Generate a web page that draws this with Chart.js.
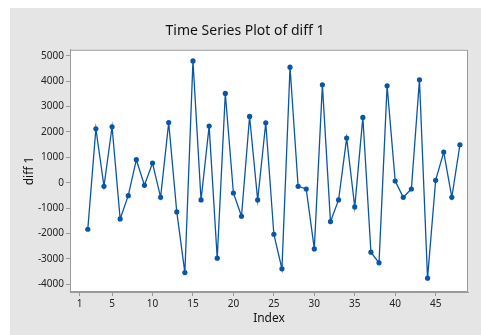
<!DOCTYPE html>
<html>
<head>
<meta charset="utf-8">
<script src="https://cdn.jsdelivr.net/npm/chart.js@4/dist/chart.umd.min.js"></script>
<style>
  html, body { margin: 0; padding: 0; background: #fff; }
  #wrap { width: 481px; height: 335px; position: relative; }
</style>
</head>
<body>
<div id="wrap"><canvas id="c" width="481" height="335"></canvas></div>
<script>
// index 2..48
const indexes = [2, 3, 4, 5, 6, 7, 8, 9, 10, 11, 12, 13, 14, 15, 16, 17, 18, 19, 20, 21, 22, 23, 24, 25,
  26, 27, 28, 29, 30, 31, 32, 33, 34, 35, 36, 37, 38, 39, 40, 41, 42, 43, 44, 45, 46, 47, 48];
const diff1 = [-1835, 2126, -142, 2205, -1429, -512, 906, -102, 776, -575, 2370,
  -1154, -3543, 4803, -681, 2232, -2977, 3519, -406, -1324, 2612, -681,
  2362, -2032, -3398, 4555, -142, -248, -2610, 3858, -1535, -681, 1760, -957,
  2575, -2740, -3161, 3819, 67, -575, -248, 4055, -3764, 94, 1209, -575, 1496];
const xTicks = [1, 5, 10, 15, 20, 25, 30, 35, 40, 45];
const yTicks = [-4000, -3000, -2000, -1000, 0, 1000, 2000, 3000, 4000, 5000];

const points = indexes.map((x, i) => ({ x: x, y: diff1[i] }));
const blue = "#0a56a6";
const tickFont = { family: "'Noto Sans', sans-serif", size: 10 };

// 背景パネルと枠
const panel = {
  id: "panel",
  beforeDraw(chart) {
    const ctx = chart.ctx;
    const a = chart.chartArea;
    ctx.save();
    ctx.fillStyle = "#e5e5e5";
    ctx.fillRect(10, 8, 471, 327);
    ctx.fillStyle = "#fff";
    ctx.fillRect(a.left, a.top, a.right - a.left, a.bottom - a.top);
    ctx.restore();
  },
  afterDraw(chart) {
    const ctx = chart.ctx;
    const a = chart.chartArea;
    ctx.save();
    ctx.strokeStyle = "#9a9a9a";
    ctx.lineWidth = 1;
    ctx.strokeRect(a.left + 0.5, a.top + 0.5, a.right - a.left - 1, a.bottom - a.top - 1);
    ctx.restore();
  }
};

new Chart(document.getElementById("c").getContext("2d"), {
  type: "line",
  data: {
    datasets: [{
      label: "diff 1",
      data: points,
      borderColor: blue,
      backgroundColor: blue,
      borderWidth: 1.3,
      pointRadius: 2.6,
      pointBorderWidth: 0,
      tension: 0
    }]
  },
  options: {
    responsive: false,
    animation: false,
    layout: { padding: { left: 22, right: 13, top: 0, bottom: 9 } },
    plugins: {
      legend: { display: false },
      tooltip: { enabled: false },
      title: {
        display: true,
        text: "Time Series Plot of diff 1",
        color: "#111",
        font: { family: "'Noto Sans', sans-serif", size: 14, weight: "normal" },
        padding: { top: 23, bottom: 10 }
      }
    },
    scales: {
      x: {
        type: "linear",
        min: -0.2,
        max: 49,
        afterBuildTicks: s => { s.ticks = xTicks.map(v => ({ value: v })); },
        afterFit: s => { s.height = 34; },
        grid: { drawOnChartArea: false, tickLength: 4, color: "#9a9a9a" },
        border: { color: "#9a9a9a" },
        ticks: { color: "#222", font: tickFont, padding: 2, maxRotation: 0 },
        title: {
          display: true,
          text: "Index",
          color: "#111",
          font: { family: "'Noto Sans', sans-serif", size: 12 },
          padding: { top: 2, bottom: 0 }
        }
      },
      y: {
        min: -4310,
        max: 5240,
        afterBuildTicks: s => { s.ticks = yTicks.map(v => ({ value: v })); },
        afterFit: s => { s.width = 48; },
        grid: { drawOnChartArea: false, tickLength: 4, color: "#9a9a9a" },
        border: { color: "#9a9a9a" },
        ticks: { color: "#222", font: tickFont, padding: 2, callback: v => String(v) },
        title: {
          display: true,
          text: "diff 1",
          color: "#111",
          font: { family: "'Noto Sans', sans-serif", size: 12 },
          padding: { top: 0, bottom: 2 }
        }
      }
    }
  },
  plugins: [panel]
});
</script>
</body>
</html>
